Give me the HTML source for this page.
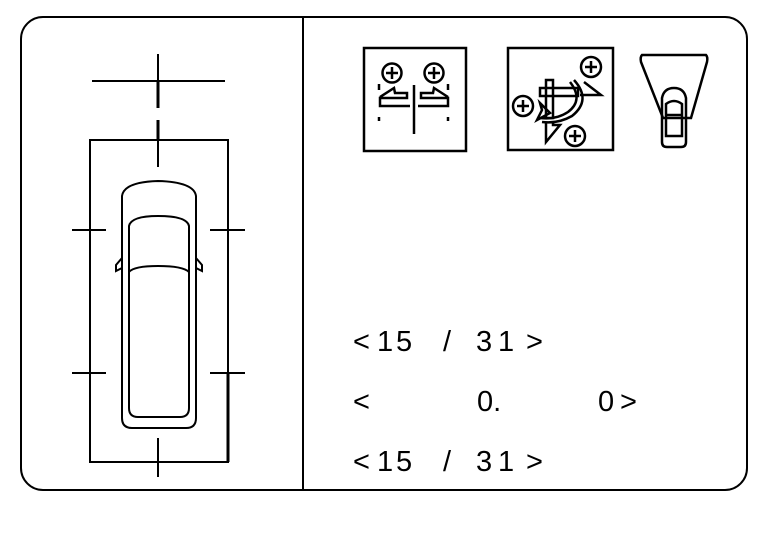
<!DOCTYPE html>
<html><head><meta charset="utf-8"><style>html,body{margin:0;padding:0;background:#fff}svg{display:block}</style></head><body>
<svg width="768" height="544" viewBox="0 0 768 544" xmlns="http://www.w3.org/2000/svg">
<g fill="none" stroke="#000" stroke-width="2">
<rect x="21" y="17" width="726" height="473" rx="22"/>
<line x1="303" y1="17" x2="303" y2="490"/>
<line x1="92" y1="81" x2="225" y2="81"/>
<line x1="158" y1="54" x2="158" y2="81"/>
<line x1="158" y1="81" x2="158" y2="108" stroke-width="3"/>
<line x1="158" y1="120" x2="158" y2="139" stroke-width="3"/>
<line x1="158" y1="139" x2="158" y2="167"/>
<rect x="90" y="140" width="138" height="322"/>
<line x1="72" y1="230" x2="106" y2="230"/>
<line x1="210" y1="230" x2="245" y2="230"/>
<line x1="72" y1="373" x2="106" y2="373"/>
<line x1="210" y1="373" x2="245" y2="373"/>
<line x1="228" y1="373" x2="228" y2="462" stroke-width="3"/>
<line x1="158" y1="438" x2="158" y2="477"/>
<path d="M122,196 Q124,182 158,181 Q194,182 196,196 L196,418 Q196,428 186,428 L132,428 Q122,428 122,418 Z"/>
<path d="M129,226 Q131,216 158,216 Q187,216 189,226 L189,408 Q189,417 180,417 L138,417 Q129,417 129,408 Z"/>
<path d="M129,272 Q134,266 158,266 Q183,266 189,272"/>
<path d="M122,258 L116,265 L116,271 L122,268"/>
<path d="M196,258 L202,265 L202,271 L196,268"/>
</g>
<g fill="none" stroke="#000" stroke-width="2.5">
<rect x="364" y="48" width="102" height="103"/>
<circle cx="392" cy="73" r="9.5"/><line x1="386" y1="73" x2="398" y2="73"/><line x1="392" y1="67" x2="392" y2="79"/>
<circle cx="434" cy="73" r="9.5"/><line x1="428" y1="73" x2="440" y2="73"/><line x1="434" y1="67" x2="434" y2="79"/>
<line x1="414" y1="85" x2="414" y2="134"/>
<path d="M380,97 L394,88 L395,93 L407,93 L407,98 L380,98 L380,106 L410,106"/>
<path d="M448,97 L434,88 L433,93 L421,93 L421,98 L448,98 L448,106 L418,106"/>
<line x1="379" y1="84" x2="379" y2="90"/><line x1="448" y1="84" x2="448" y2="90"/>
<line x1="379" y1="117" x2="379" y2="121"/><line x1="448" y1="117" x2="448" y2="121"/>
<rect x="508" y="48" width="105" height="102"/>
<circle cx="591" cy="67" r="10"/><line x1="585" y1="67" x2="597" y2="67"/><line x1="591" y1="61" x2="591" y2="73"/>
<circle cx="523" cy="106" r="10"/><line x1="517" y1="106" x2="529" y2="106"/><line x1="523" y1="100" x2="523" y2="112"/>
<circle cx="575" cy="136" r="10"/><line x1="569" y1="136" x2="581" y2="136"/><line x1="575" y1="130" x2="575" y2="142"/>
<path d="M540,88 L540,96 L578,96 L578,88 Z"/>
<path d="M546,80 L546,118 L553,118 L553,80 Z"/>
<path d="M570,82 Q584,100 568,112 Q556,120 540,118"/>
<path d="M574,80 Q592,100 572,116 Q558,124 542,122"/>
<path d="M584,82 L601,95 L580,95"/>
<path d="M540,103 L550,113 L537,120 L542,110 Z"/>
<path d="M546,123 L546,142 L560,125 L553,125 L553,122"/>
<path d="M642,55 L706,55 Q708,57 707,62 L691,118 L663,118 L641,62 Q640,57 642,55 Z"/>
<path d="M662,98 Q664,88 674,88 Q684,88 686,98 L686,142 Q686,147 681,147 L667,147 Q662,147 662,142 Z"/>
<path d="M666,104 Q674,98 682,104 L682,136 L666,136 Z"/>
<line x1="666" y1="115" x2="682" y2="115"/>
</g>
<g font-family="'Liberation Sans', sans-serif" font-size="29" fill="#000">
<text x="353" y="351">&lt;</text><text x="377" y="351">1</text><text x="396" y="351">5</text><text x="443" y="351">/</text><text x="476" y="351">3</text><text x="498" y="351">1</text><text x="526" y="351">&gt;</text>
<text x="353" y="411">&lt;</text><text x="477" y="411">0.</text><text x="598" y="411">0</text><text x="620" y="411">&gt;</text>
<text x="353" y="471">&lt;</text><text x="377" y="471">1</text><text x="396" y="471">5</text><text x="443" y="471">/</text><text x="476" y="471">3</text><text x="498" y="471">1</text><text x="526" y="471">&gt;</text>
</g>
</svg>
</body></html>
